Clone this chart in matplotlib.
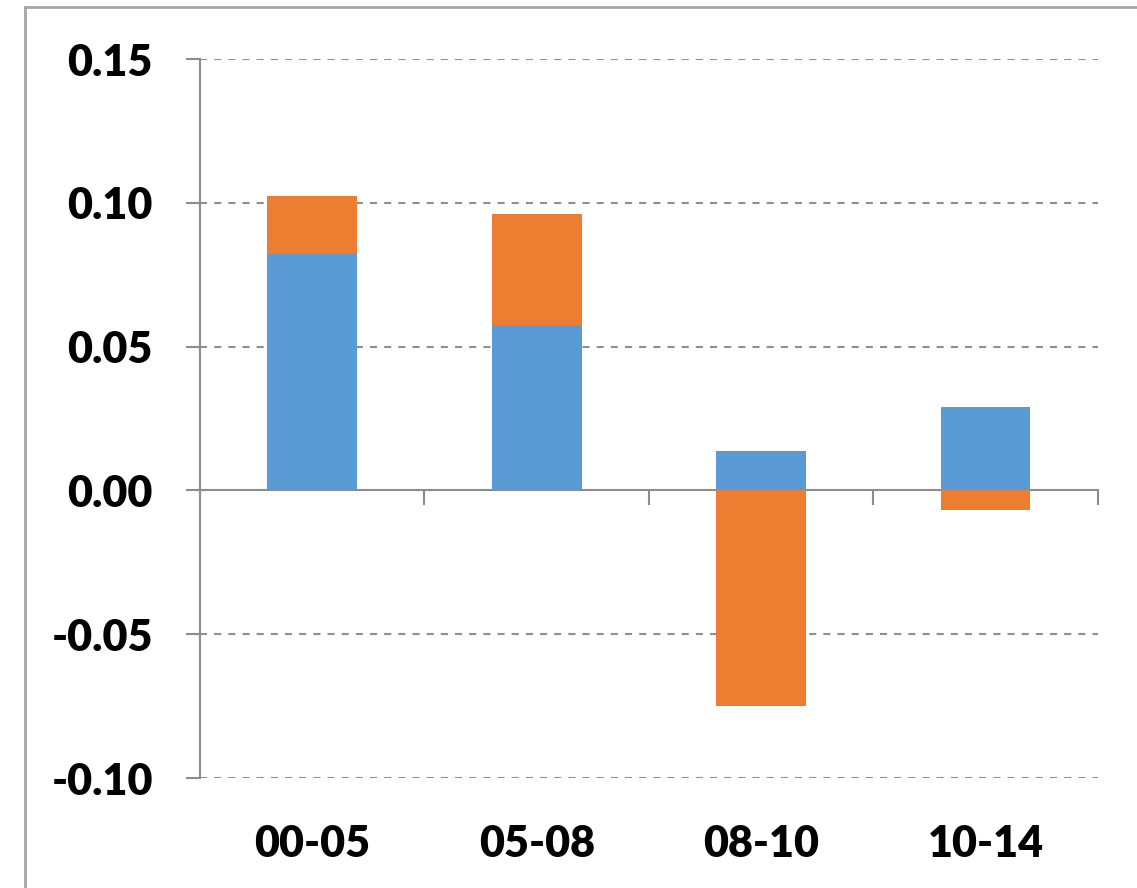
import matplotlib
matplotlib.use("Agg")
import matplotlib.pyplot as plt
from matplotlib.lines import Line2D
import numpy as np

categories = ["00-05", "05-08", "08-10", "10-14"]
blue_values = [0.0822, 0.0574, 0.0136, 0.0289]
orange_values = [0.0201, 0.0386, -0.0748, -0.0067]
yticks = [-0.10, -0.05, 0.00, 0.05, 0.10, 0.15]
ytick_labels = ["-0.10", "-0.05", "0.00", "0.05", "0.10", "0.15"]

BLUE = "#5B9BD5"
ORANGE = "#ED7D31"
AXIS_GRAY = "#8C8C8C"
GRID_GRAY = "#8F8F8F"
FONT = "Lato"
WEIGHT = "heavy"

W, H, DPI = 1137, 888, 100
fig = plt.figure(figsize=(W / DPI, H / DPI), dpi=DPI)
fig.patch.set_facecolor("white")

left, right = 200 / W, 1097.7 / W
bottom, top = (H - 778) / H, (H - 59) / H
ax = fig.add_axes([left, bottom, right - left, top - bottom])

x = np.arange(len(categories))
blue = np.array(blue_values)
orange = np.array(orange_values)
orange_base = np.where(orange >= 0, blue, 0.0)

bar_w = 0.40
ax.bar(x, blue, width=bar_w, color=BLUE, zorder=3)
ax.bar(x, orange, width=bar_w, bottom=orange_base, color=ORANGE, zorder=3)

ax.set_xlim(-0.5, len(categories) - 0.5)
ax.set_ylim(-0.10, 0.15)

# dashed horizontal gridlines (zero line is the category axis)
for yv in yticks:
    if abs(yv) > 1e-9:
        ax.axhline(yv, color=GRID_GRAY, lw=1.5, ls=(0, (3.4, 3.4)), zorder=1)

ax.set_yticks(yticks)
ax.set_yticklabels(ytick_labels)
for spine in ["top", "right"]:
    ax.spines[spine].set_visible(False)
ax.spines["left"].set_color(AXIS_GRAY)
ax.spines["left"].set_linewidth(1.5)
ax.spines["bottom"].set_position(("data", 0))
ax.spines["bottom"].set_color(AXIS_GRAY)
ax.spines["bottom"].set_linewidth(1.5)

ax.set_xticks(np.arange(len(categories)) + 0.5)
ax.set_xticklabels([])
ax.tick_params(axis="x", direction="out", length=10.5, width=1.5, color=AXIS_GRAY)
ax.tick_params(axis="y", direction="out", length=10, width=1.5, color=AXIS_GRAY,
               pad=24, labelsize=31)
for lab in ax.get_yticklabels():
    lab.set_fontfamily(FONT)
    lab.set_fontweight(WEIGHT)

# category labels beneath the plot area
for xi, name in zip(x, categories):
    ax.annotate(name, xy=(xi, 0), xycoords=("data", "axes fraction"),
                xytext=(0, -79 * 72 / DPI), textcoords="offset points",
                ha="center", va="baseline", fontsize=31,
                fontfamily=FONT, fontweight=WEIGHT)

# chart frame
fx0 = 25 / W
fy0 = 1 - 7 / H
fig.add_artist(Line2D([fx0, fx0], [0, fy0], transform=fig.transFigure,
                      color="#A6A6A6", lw=2))
fig.add_artist(Line2D([fx0, 1], [fy0, fy0], transform=fig.transFigure,
                      color="#A6A6A6", lw=2))

fig.savefig("out.png", dpi=DPI, facecolor="white")
